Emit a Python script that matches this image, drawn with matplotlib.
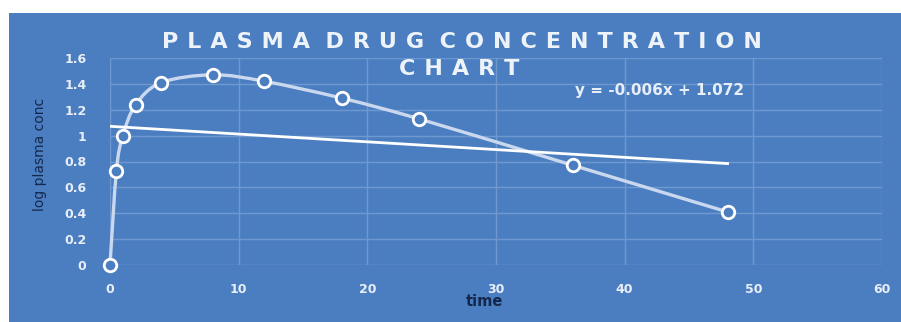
import numpy as np
import matplotlib.pyplot as plt
from matplotlib.path import Path
from matplotlib.patches import PathPatch, Rectangle

# data
time = [0, 0.5, 1, 2, 4, 8, 12, 18, 24, 36, 48]
log_conc = [0, 0.73, 1.0, 1.24, 1.41, 1.47, 1.42, 1.29, 1.13, 0.77, 0.41]
slope = -0.006
intercept = 1.072
xticks = [0, 10, 20, 30, 40, 50, 60]
yticks = [0, 0.2, 0.4, 0.6, 0.8, 1, 1.2, 1.4, 1.6]
ytick_labels = ["0", "0.2", "0.4", "0.6", "0.8", "1", "1.2", "1.4", "1.6"]

bg = "#4b7ec0"
grid_c = "#6f98d0"
curve_c = "#c9d8ef"
navy = "#14284d"

fig = plt.figure(figsize=(9.01, 3.22), dpi=100)
fig.patch.set_facecolor("white")
fig.patches.append(Rectangle((9/901, 0), 1, (322-13)/322, transform=fig.transFigure,
                             facecolor=bg, edgecolor="none", zorder=-10))

ax = fig.add_axes([110/901, 57/322, 772/901, 207/322])
ax.set_facecolor("none")
ax.set_xlim(0, 60)
ax.set_ylim(0, 1.6)
for s in ax.spines.values():
    s.set_visible(False)
ax.set_xticks(xticks)
ax.set_yticks(yticks)
ax.set_yticklabels(ytick_labels)
ax.tick_params(length=0, colors="white", labelsize=9, pad=13)
ax.tick_params(axis="y", pad=17)
for lab in ax.get_xticklabels() + ax.get_yticklabels():
    lab.set_fontweight("bold")
    lab.set_color("#e8eef8")
ax.grid(True, color=grid_c, linewidth=1)
ax.set_axisbelow(True)

# smoothed line (catmull-rom style bezier through the points, like excel)
pts = np.column_stack([time, log_conc])
verts = [pts[0]]
codes = [Path.MOVETO]
n = len(pts)
for i in range(n - 1):
    p0 = pts[i - 1] if i > 0 else pts[i]
    p1 = pts[i]
    p2 = pts[i + 1]
    p3 = pts[i + 2] if i + 2 < n else pts[i + 1]
    c1 = p1 + (p2 - p0) / 6
    c2 = p2 - (p3 - p1) / 6
    verts += [c1, c2, p2]
    codes += [Path.CURVE4] * 3
ax.add_patch(PathPatch(Path(verts, codes), facecolor="none", edgecolor=curve_c,
                       linewidth=2.4, zorder=3, clip_on=False))
ax.plot(time, log_conc, linestyle="none", marker="o", markersize=9,
        markerfacecolor=bg, markeredgecolor="white", markeredgewidth=2,
        zorder=4, clip_on=False)

# linear trendline
tx = np.array([0, 48])
ax.plot(tx, slope * tx + intercept, color="white", linewidth=2, zorder=3)
ax.text(575, 322 - 90, "y = -0.006x + 1.072", transform=None, color="#e8eef8",
        fontsize=11, fontweight="bold", va="center", ha="left")

# title, spread out letters (wider gap only inside words)
def spread(s):
    return "  ".join("\u2009\u2009".join(w) for w in s.split())

fig.text(462/901, 1 - 42/322, spread("PLASMA DRUG CONCENTRATION"), color="#eef3fa",
         fontsize=16, fontweight="bold", ha="center", va="center")
fig.text(459/901, 1 - 69/322, spread("CHART"), color="#eef3fa",
         fontsize=16, fontweight="bold", ha="center", va="center")

fig.text(484/901, 1 - 302/322, "time", color=navy, fontsize=10.5, fontweight="bold",
         ha="center", va="center")
fig.text(40/901, 1 - 154/322, "log plasma conc",
         family=["Liberation Sans Narrow", "DejaVu Sans"], color=navy,
         fontsize=10, rotation=90, ha="center", va="center")

fig.savefig("out.png", dpi=100, facecolor="white")
